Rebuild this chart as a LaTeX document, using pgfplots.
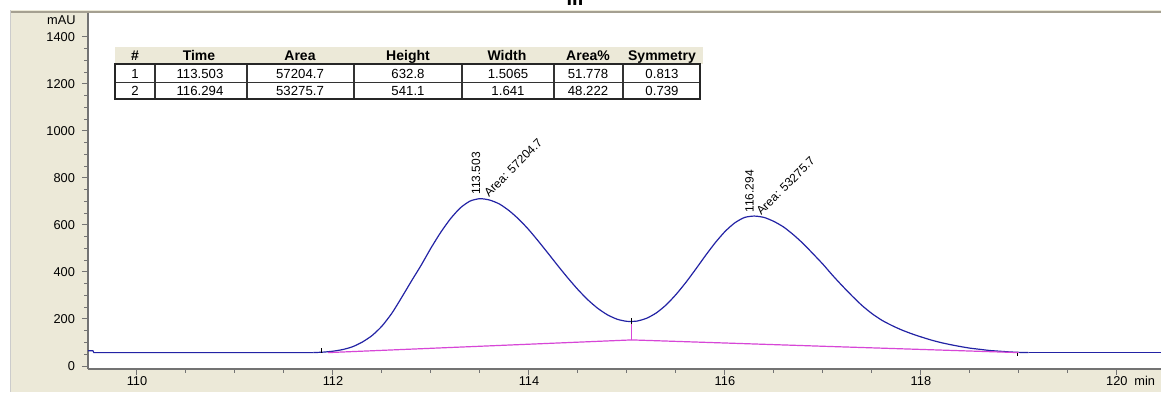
\documentclass[border=0pt]{standalone}
\usepackage{fontspec}
\setmainfont{Liberation Sans}
\usepackage{pgfplots}
\pgfplotsset{compat=1.18}
\definecolor{panel}{RGB}{236,233,216}
\definecolor{frameline}{RGB}{165,160,145}
\definecolor{sig}{RGB}{35,35,165}
\definecolor{bl}{RGB}{215,70,215}

\pgfplotstableread{
t v
111.80 57
111.90 59
112.00 63
112.10 70
112.20 82
112.30 102
112.40 130
112.50 170
112.60 224
112.70 291
112.80 361
112.90 429
113.00 502
113.10 569
113.20 627
113.30 673
113.40 702
113.50 712
113.60 706
113.70 689
113.80 660
113.90 623
114.00 579
114.10 529
114.20 477
114.30 424
114.40 373
114.50 325
114.60 282
114.70 246
114.80 218
114.90 199
115.00 190
115.10 191
115.20 203
115.30 226
115.40 260
115.50 304
115.60 355
115.70 411
115.80 469
115.90 524
116.00 572
116.10 609
116.20 632
116.30 638
116.40 632
116.50 615
116.60 591
116.70 558
116.80 520
116.90 477
117.00 433
117.10 385
117.20 340
117.30 297
117.40 257
117.50 223
117.60 195
117.70 173
117.80 154
117.90 138
118.00 124
118.10 111
118.20 100
118.30 91
118.40 83
118.50 76
118.60 71
118.70 66
118.80 63
118.90 60
119.00 58
119.10 57
}\signal

\begin{document}
\begin{tikzpicture}[x=0.5pt,y=-0.5pt]
\useasboundingbox (0,0) rectangle (1161,392);
\fill[white] (0,0) rectangle (1161,392);
\fill[panel] (10,10) rectangle (1161,392);
\fill[white] (88,13) rectangle (1161,369);
\draw[frameline, line width=1pt] (10,12) -- (1161,12);
\draw[black!20, line width=0.5pt] (10,10) -- (10,392);
\node[font=\bfseries\fontsize{10}{12}\selectfont, anchor=base] at (575,5) {III};

\begin{axis}[
  at={(44pt,-184.5pt)}, anchor=south west,
  scale only axis, width=536.5pt, height=178pt,
  xmin=109.5, xmax=120.45, ymin=-12.8, ymax=1502,
  axis x line*=bottom, axis y line*=left,
  axis line style={draw=black!55, line width=0.6pt},
  xtick={110,112,114,116,118,120}, ytick={0,200,...,1400},
  minor x tick num=3, minor y tick num=3,
  tick align=outside, major tick length=3pt, minor tick length=1.8pt,
  tick style={black!55, line width=0.5pt},
  ticklabel style={font=\fontsize{6.4}{7}\selectfont},
  xticklabel style={yshift=3pt, text height=4.6pt, text depth=0pt},
  /pgf/number format/assume math mode=true,
  /pgf/number format/1000 sep={},
  clip=false,
]
% baseline segments of the signal
\addplot[sig, line width=0.6pt] coordinates {(109.50,65) (109.55,65) (109.56,57) (111.80,57)};
\addplot[sig, line width=0.6pt, smooth, tension=0.4] table[x=t,y=v] {\signal};
\addplot[sig, line width=0.6pt] coordinates {(119.10,57) (120.45,57)};
% integration baseline
\addplot[bl, line width=0.6pt] coordinates {(111.95,57) (113.5,84) (115.05,111) (117.0,84) (119.0,57)};
\addplot[bl, line width=0.6pt] coordinates {(115.05,111) (115.05,178)};
\addplot[black, line width=0.5pt] coordinates {(115.05,178) (115.05,204)};
\addplot[black, line width=0.5pt] coordinates {(111.88,57) (111.88,76)};
\addplot[black, line width=0.5pt] coordinates {(118.99,57) (118.99,42)};
% peak labels
\node[rotate=90, anchor=west, inner sep=0pt, font=\fontsize{6}{7}\selectfont] at (axis cs:113.46,728) {113.503};
\node[rotate=45, anchor=west, inner sep=0pt, font=\fontsize{6}{7}\selectfont] at (axis cs:113.56,728) {Area: 57204.7};
\node[rotate=90, anchor=west, inner sep=0pt, font=\fontsize{6}{7}\selectfont] at (axis cs:116.25,651) {116.294};
\node[rotate=45, anchor=west, inner sep=0pt, font=\fontsize{6}{7}\selectfont] at (axis cs:116.34,650) {Area: 53275.7};
\end{axis}

\node[anchor=east, inner sep=0pt, font=\fontsize{6.4}{7}\selectfont] at (76,20) {mAU};
\node[anchor=base west, inner sep=0pt, font=\fontsize{6.4}{7}\selectfont] at (1134,385) {min};

% peak table
\fill[panel] (115,47) rectangle (703,64);
\fill[white] (115,64) rectangle (700,99);
\draw[black!80, line width=0.5pt] (115,82) -- (700,82);
\foreach \xx in {155,247,354,462,554,623} {\draw[black!80, line width=0.7pt] (\xx,64) -- (\xx,99);}
\draw[black!85, line width=0.9pt] (115,64) rectangle (700,99);
\begin{scope}[every node/.style={inner sep=0pt, anchor=base, font=\bfseries\fontsize{7}{8}\selectfont}]
\node at (135,60.5) {\#};
\node at (199,60.5) {Time};
\node at (300,60.5) {Area};
\node at (408,60.5) {Height};
\node at (507,60.5) {Width};
\node at (588,60.5) {Area\%};
\node at (662,60.5) {Symmetry};
\end{scope}
\begin{scope}[every node/.style={inner sep=0pt, anchor=base, font=\fontsize{6.6}{8}\selectfont}]
\node at (135,78) {1};
\node at (200,78) {113.503};
\node at (300,78) {57204.7};
\node at (408,78) {632.8};
\node at (508,78) {1.5065};
\node at (588,78) {51.778};
\node at (662,78) {0.813};
\node at (135,95.5) {2};
\node at (200,95.5) {116.294};
\node at (300,95.5) {53275.7};
\node at (408,95.5) {541.1};
\node at (508,95.5) {1.641};
\node at (588,95.5) {48.222};
\node at (662,95.5) {0.739};
\end{scope}
\end{tikzpicture}
\end{document}
